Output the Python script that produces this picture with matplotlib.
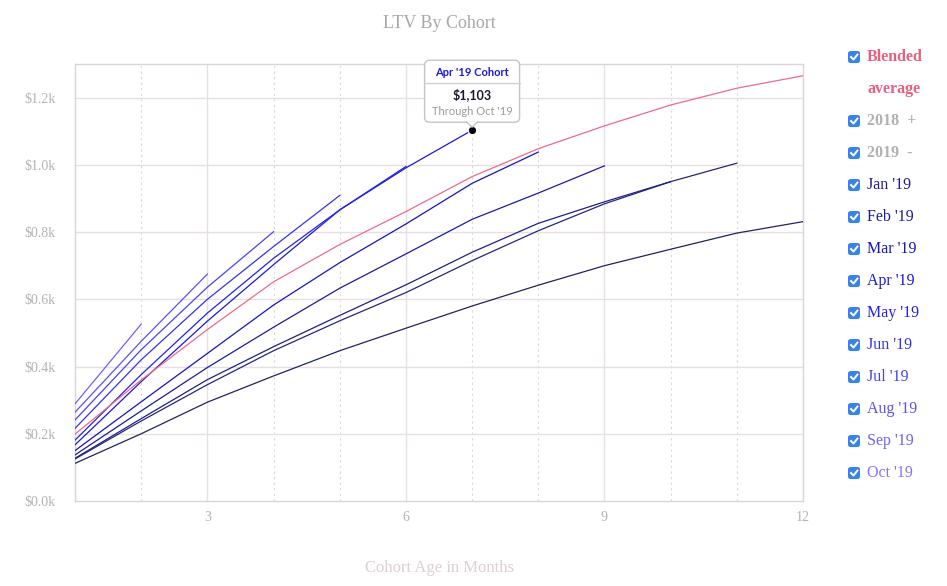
import matplotlib
matplotlib.use("Agg")
import matplotlib.pyplot as plt
from matplotlib.patches import FancyBboxPatch, Polygon
from matplotlib.lines import Line2D
from matplotlib.transforms import IdentityTransform

# LTV per cohort, month 1..n
months = list(range(1, 13))
blended = [199, 360, 510, 652, 763, 861, 965, 1048, 1116, 1178, 1228, 1265]

cohort_names = ["Nov '18", "Dec '18", "Jan '19", "Feb '19", "Mar '19", "Apr '19",
                "May '19", "Jun '19", "Jul '19", "Aug '19", "Sep '19", "Oct '19"]
cohort_values = [
    [112, 200, 294, 372, 447, 514, 580, 642, 700, 749, 797, 831],
    [125, 238, 346, 447, 536, 620, 715, 804, 884, 950, 1005],
    [127, 245, 361, 459, 552, 643, 740, 826, 890, 950],
    [137, 268, 397, 517, 633, 735, 838, 916, 997],
    [150, 295, 439, 583, 709, 824, 945, 1038],
    [167, 355, 535, 703, 866, 991, 1103],
    [181, 376, 559, 722, 866, 995],
    [216, 420, 600, 757, 909],
    [241, 450, 636, 801],
    [264, 475, 675],
    [289, 526],
    [],
]
cohort_colors = ["#23235e", "#27277a", "#1f1f85", "#1c1c9e", "#1515bb", "#1a1ad6",
                 "#2222e6", "#3333ee", "#4444f0", "#5a52f2", "#6e62f4", "#8474f6"]

legend_labels = ["Blended", "average", "2018  +", "2019  -"] + cohort_names[2:]
legend_colors = ["#e8607f", "#e8607f", "#b0b0b0", "#b0b0b0"] + cohort_colors[2:]

pink = "#ec6b8a"
grid_c = "#e8dfe5"
serif = ["Liberation Serif", "DejaVu Serif"]

fig = plt.figure(figsize=(9.47, 5.86), dpi=100)
ax = fig.add_axes([75 / 947, 85 / 586, 728 / 947, 437 / 586])

for name, vals, col in zip(cohort_names, cohort_values, cohort_colors):
    ax.plot(months[:len(vals)], vals, color=col, lw=0.9, zorder=3)
ax.plot(months, blended, color=pink, lw=0.9, zorder=3)

ax.set_xlim(1, 12)
ax.set_ylim(0, 1300)

for m in months[1:-1]:
    if m % 3 == 0:
        ax.axvline(m, color=grid_c, lw=1, zorder=1)
    else:
        ax.axvline(m, color="#d9d9d9", lw=0.8, ls=(0, (2, 3)), zorder=1)
for v in range(200, 1400, 200):
    ax.axhline(v, color=grid_c, lw=1, zorder=1)

for s in ax.spines.values():
    s.set_color("#ddd2d9")
    s.set_linewidth(1)

ax.set_xticks([3, 6, 9, 12])
ax.set_xticklabels(["3", "6", "9", "12"])
ax.set_yticks(range(0, 1400, 200))
ax.set_yticklabels(["$%.1fk" % (v / 1000) for v in range(0, 1400, 200)])
ax.tick_params(length=0, labelsize=10, labelcolor="#b3b3b3")
ax.tick_params(axis="x", pad=7)
ax.tick_params(axis="y", pad=14)
for t in ax.get_xticklabels() + ax.get_yticklabels():
    t.set_family(serif)

fig.text(439 / 947, 1 - 568 / 586, "Cohort Age in Months", ha="center", va="center",
         fontsize=12, color="#dccfd7", family=serif)
fig.text(439 / 947, 1 - 24 / 586, "LTV By Cohort", ha="center", va="center",
         fontsize=13, color="#a8a8a8", family=serif)

# tooltip for Apr '19
ax.plot([7], [1103], "o", color="black", ms=6, mec="white", mew=0.8, zorder=6)
fig.canvas.draw()
px, py = ax.transData.transform((7, 1103))
idt = IdentityTransform()
bw, bh = 95, 62
bx, by = px - bw / 2, py + 8
fig.patches.append(FancyBboxPatch((bx, by), bw, bh, boxstyle="round,pad=0,rounding_size=5",
                                  fc="white", ec="#c4c4c4", lw=1, transform=idt, zorder=10))
fig.patches.append(Polygon([(px - 6, by + 0.8), (px, by - 5), (px + 6, by + 0.8)], closed=False,
                           fc="white", ec="#c4c4c4", lw=1, transform=idt, zorder=11))
fig.lines.append(Line2D([bx, bx + bw], [by + bh - 23, by + bh - 23], color="#d0d0d0",
                        lw=1, transform=idt, zorder=11))
sans = ["Lato", "DejaVu Sans"]
fig.text(px, by + bh - 12, "Apr '19 Cohort", transform=idt, ha="center", va="center",
         fontsize=8, fontweight="bold", color="#1a1ad6", family=sans, zorder=12)
fig.text(px, by + bh - 34, "$1,103", transform=idt, ha="center", va="center",
         fontsize=9, fontweight="bold", color="#1a1a2e", family=sans, zorder=12)
fig.text(px, by + bh - 51, "Through Oct '19", transform=idt, ha="center", va="center",
         fontsize=8, color="#9a9a9a", family=sans, zorder=12)

# legend with checkboxes
H = 586
for i, (lab, col) in enumerate(zip(legend_labels, legend_colors)):
    y = 57 + 32 * i
    if lab != "average":
        fig.patches.append(FancyBboxPatch((848, H - y - 6), 12, 12,
                                          boxstyle="round,pad=0,rounding_size=2.5",
                                          fc="#3b82e6", ec="none", transform=idt, zorder=10))
        fig.lines.append(Line2D([851, 853.5, 857.5], [H - y, H - y - 2.5, H - y + 2.5],
                                color="white", lw=1.4, transform=idt, zorder=11))
    fig.text(867 / 947, 1 - y / 586, lab, ha="left", va="center", fontsize=11.5,
             color=col, family=serif,
             fontweight="bold" if i < 4 else "normal")

fig.savefig("out.png", dpi=100)
